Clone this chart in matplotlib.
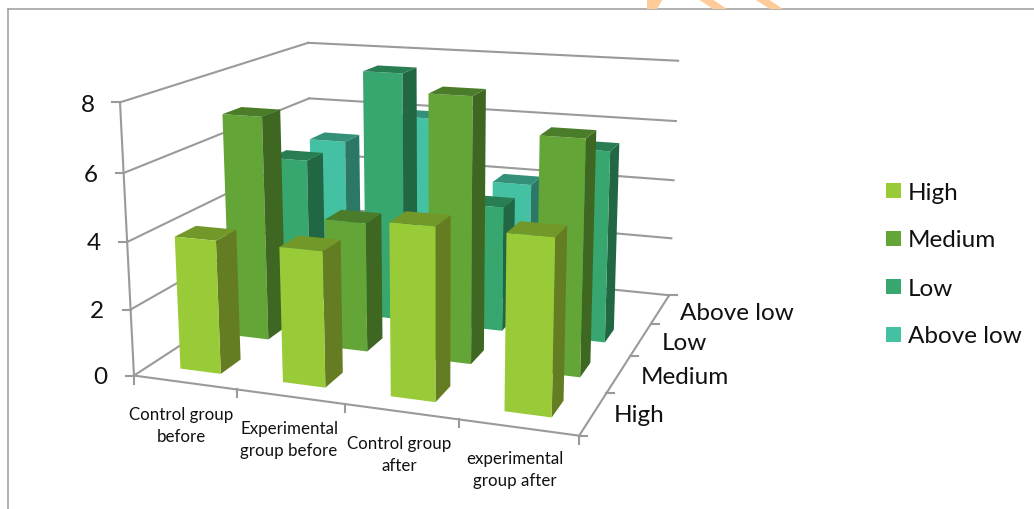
import numpy as np
import matplotlib
matplotlib.use("Agg")
import matplotlib.pyplot as plt
from matplotlib.lines import Line2D
from matplotlib.patches import Polygon, Rectangle

W, H = 1034, 510

groups = ["Control group\nbefore", "Experimental\ngroup before", "Control group\nafter", "experimental\ngroup after"]
levels = ["High", "Medium", "Low", "Above low"]
high = [4, 4, 5, 5]
medium = [7, 4, 8, 7]
low = [5, 8, 4, 6]
above_low = [5, 6, 4, 0]
series = [high, medium, low, above_low]

front_colors = ["#99CB38", "#63A537", "#37A76F", "#44C1A3"]
top_colors = ["#73982A", "#4A7C29", "#297D53", "#33917A"]
side_colors = ["#647D23", "#3E6722", "#226744", "#2A7865"]
grid_color = "#9A9A9A"
text_color = "#111111"

bar_size = 0.4
z_ticks = [0, 2, 4, 6, 8]

plt.rcParams["font.family"] = ["Lato", "DejaVu Sans"]

# camera calibration: box corners and tick positions -> pixels
calib_world = [
    (0, 0, 0), (1, 0, 0), (2, 0, 0), (3, 0, 0), (4, 0, 0),
    (4, 1, 0), (4, 2, 0), (4, 3, 0), (4, 4, 0),
    (4, 4, 2), (4, 4, 4), (4, 4, 6), (4, 4, 8),
    (0, 4, 8), (0, 4, 6), (0, 4, 0),
    (0, 0, 8), (0, 0, 6), (0, 0, 4), (0, 0, 2),
]
calib_px = [
    (134, 377), (236, 392), (343, 405), (457, 421), (577, 435),
    (610, 393), (632, 357), (653, 324), (667, 297),
    (670, 240), (673, 182), (676, 122), (679, 62),
    (307, 43), (309, 99), (314, 260),
    (120, 104), (125, 174), (128, 243), (130, 310),
]


def fit_camera(world, px):
    rows = []
    for (x, y, z), (u, v) in zip(world, px):
        u, v = u / 1000, (H - v) / 1000
        rows.append([x, y, z, 1, 0, 0, 0, 0, -u * x, -u * y, -u * z, -u])
        rows.append([0, 0, 0, 0, x, y, z, 1, -v * x, -v * y, -v * z, -v])
    vec = np.linalg.svd(np.array(rows, dtype=float))[2][-1]
    P = vec.reshape(3, 4)
    P = P / P[2, 3]
    P[:2] *= 1000
    return P


P = fit_camera(calib_world, calib_px)


def to_px(x, y, z):
    u, v, w = P @ np.array([x, y, z, 1.0])
    return u / w, v / w


fig = plt.figure(figsize=(W / 100, H / 100), dpi=100)
ax = fig.add_axes([0, 0, 1, 1], projection="3d", computed_zorder=False)
ax.set_axis_off()
ax.patch.set_visible(False)


def fitted_proj():
    to_view = ax.transData.inverted().get_matrix()
    Q = to_view @ P
    return np.vstack([Q[0], Q[1], [-1, 1, -0.1, 0], Q[2]])


ax.get_proj = fitted_proj


def fig_line(p0, p1, color=grid_color, lw=1.5, zorder=-1):
    fig.add_artist(Line2D([p0[0] / W, p1[0] / W], [p0[1] / H, p1[1] / H], color=color, lw=lw,
                          zorder=zorder, transform=fig.transFigure))


# gridlines on the two back walls sit behind the 3d axes
for z in z_ticks:
    fig_line(to_px(0, 0, z), to_px(0, 4, z))
    fig_line(to_px(0, 4, z), to_px(4, 4, z))
fig_line(to_px(0, 0, 0), to_px(0, 0, 8))
fig_line(to_px(0, 0, 0), to_px(4, 0, 0))
fig_line(to_px(4, 0, 0), to_px(4, 4, 0))

# bars, far row first so nearer ones paint over them
order = 1
for j in range(len(levels) - 1, -1, -1):
    for i in range(len(groups)):
        value = series[j][i]
        if value == 0:
            continue
        clear = (0, 0, 0, 0)
        # face order: -z, +z, -y, +y, -x, +x
        faces = [clear, top_colors[j], front_colors[j], clear, clear, side_colors[j]]
        bar = ax.bar3d(i + 0.3, j + 0.3, 0, bar_size, bar_size, value, color=faces,
                       shade=False, edgecolor="none", zorder=order)
        bar.set_clip_on(False)
        order += 1

# tick marks
for z in z_ticks:
    u, v = to_px(0, 0, z)
    fig_line((u - 8, v), (u, v))
for i in range(len(groups) + 1):
    u, v = to_px(i, 0, 0)
    fig_line((u, v), (u, v - 8))
for j in range(len(levels) + 1):
    u, v = to_px(4, j, 0)
    fig_line((u, v), (u + 8, v))


def px_text(x, y, s, size, ha="center", spacing=1.2):
    fig.text(x / W, 1 - y / H, s, fontsize=size, ha=ha, va="center", color=text_color,
             linespacing=spacing)


for z, x, y in zip(z_ticks, [107, 104, 101, 98, 95], [377, 312, 244, 175, 106]):
    px_text(x, y, str(z), 17.5, ha="right")
for label, x, y in zip(groups, [181, 289, 399, 515], [426, 440, 455, 470]):
    px_text(x, y, label, 12.2, spacing=1.45)
for label, x, y in zip(levels, [639, 685, 684, 737], [416, 377, 343, 313]):
    px_text(x, y, label, 17.5)

# legend
for label, color, y in zip(levels, front_colors, [191, 239, 287, 335]):
    fig.add_artist(Rectangle((886 / W, 1 - (y + 7.5) / H), 15 / W, 15 / H, color=color,
                             lw=0, transform=fig.transFigure))
    px_text(908, y + 2, label, 17.5, ha="left")

# outer frame, open to the right and the bottom
fig_line((8, H - 10), (W, H - 10), color="#9C9C9C", lw=1.1)
fig_line((8, H - 10), (8, 0), color="#9C9C9C", lw=1.1)

# strokes of the page logo above the frame
for pts in [[(647, 0), (663, 0), (657, 10), (647, 10)],
            [(698, 0), (712, 0), (727, 10), (713, 10)],
            [(754, 0), (768, 0), (783, 10), (770, 10)]]:
    fig.add_artist(Polygon([(x / W, 1 - y / H) for x, y in pts], closed=True, color="#FFCC99",
                           lw=0, transform=fig.transFigure))

fig.savefig("out.png", dpi=100)
